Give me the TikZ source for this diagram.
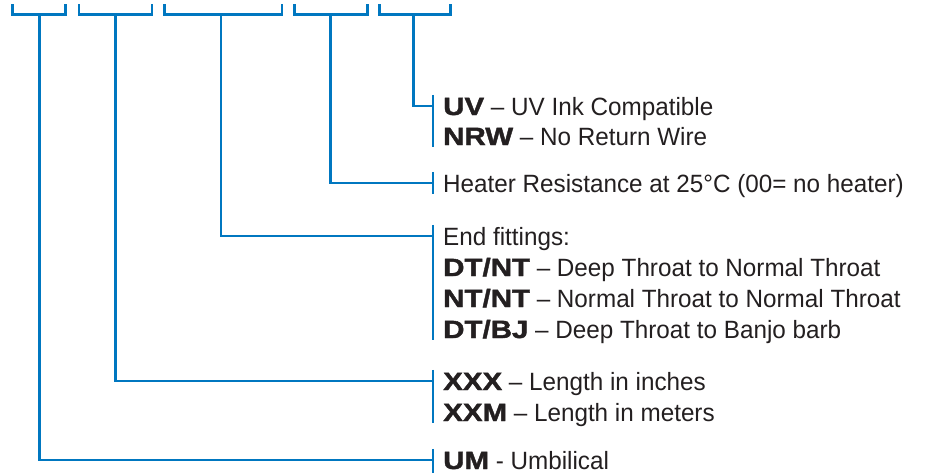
\documentclass[tikz,border=0pt]{standalone}
\usepackage{fontspec}
\setmainfont{Liberation Sans}[FakeStretch=0.97]
\newfontfamily\heavyfont{Liberation Sans Bold}[FakeStretch=1.18,FakeBold=1.6]
\newcommand{\hv}[1]{{\heavyfont #1}}
\definecolor{keyblue}{RGB}{0,119,192}
\definecolor{keytext}{RGB}{35,31,32}
\tikzset{
  wire/.style={draw=keyblue,line width=2.6pt},
  item/.style={anchor=base west,inner xsep=10pt,inner ysep=0pt,text height=20pt,text depth=2pt,
    font=\fontsize{25}{30}\selectfont,text=keytext},
}
\begin{document}
\begin{tikzpicture}[x=1pt,y=-1pt]
\useasboundingbox (0,0) rectangle (925,472);
% text lines
\node[item] (uv)  at (433,115) {\hv{UV} -- UV Ink Compatible};
\node[item] (nrw) at (433,145) {\hv{NRW} -- No Return Wire};
\node[item] (ht)  at (433,192) {Heater Resistance at 25°C (00= no heater)};
\node[item] (ef)  at (433,245) {End fittings:};
\node[item] (dtnt) at (433,276) {\hv{DT/NT} -- Deep Throat to Normal Throat};
\node[item] (ntnt) at (433,307) {\hv{NT/NT} -- Normal Throat to Normal Throat};
\node[item] (dtbj) at (433,338) {\hv{DT/BJ} -- Deep Throat to Banjo barb};
\node[item] (xxx) at (433,390) {\hv{XXX} -- Length in inches};
\node[item] (xxm) at (433,421) {\hv{XXM} -- Length in meters};
\node[item] (um)  at (433,469) {\hv{UM} - Umbilical};
% top brackets
\coordinate (s1) at (39.3,14.5);
\coordinate (s2) at (115.7,14.5);
\coordinate (s3) at (221,14.5);
\coordinate (s4) at (330.3,14.5);
\coordinate (s5) at (413.3,14.5);
\draw[wire] (12.2,4) |- (65.7,14.5) -- (65.7,4);
\draw[wire] (78.8,4) |- (152,14.5) -- (152,4);
\draw[wire] (164.6,4) |- (282,14.5) -- (282,4);
\draw[wire] (294.7,4) |- (367.3,14.5) -- (367.3,4);
\draw[wire] (379.7,4) |- (450.7,14.5) -- (450.7,4);
% connectors
\draw[wire] (s5) |- (uv.west);
\draw[wire] (s4) |- (ht.west);
\draw[wire] (s3) |- (ef.west);
\draw[wire] (s2) |- (xxx.west);
\draw[wire] (s1) |- (um.west);
% side bars
\draw[wire] (uv.north west) -- (nrw.south west);
\draw[wire] (ht.north west) -- (ht.south west);
\draw[wire] (ef.north west) -- (dtbj.south west);
\draw[wire] (xxx.north west) -- (xxm.south west);
\draw[wire] (um.north west) -- ([yshift=-6pt]um.south west);
\end{tikzpicture}
\end{document}
